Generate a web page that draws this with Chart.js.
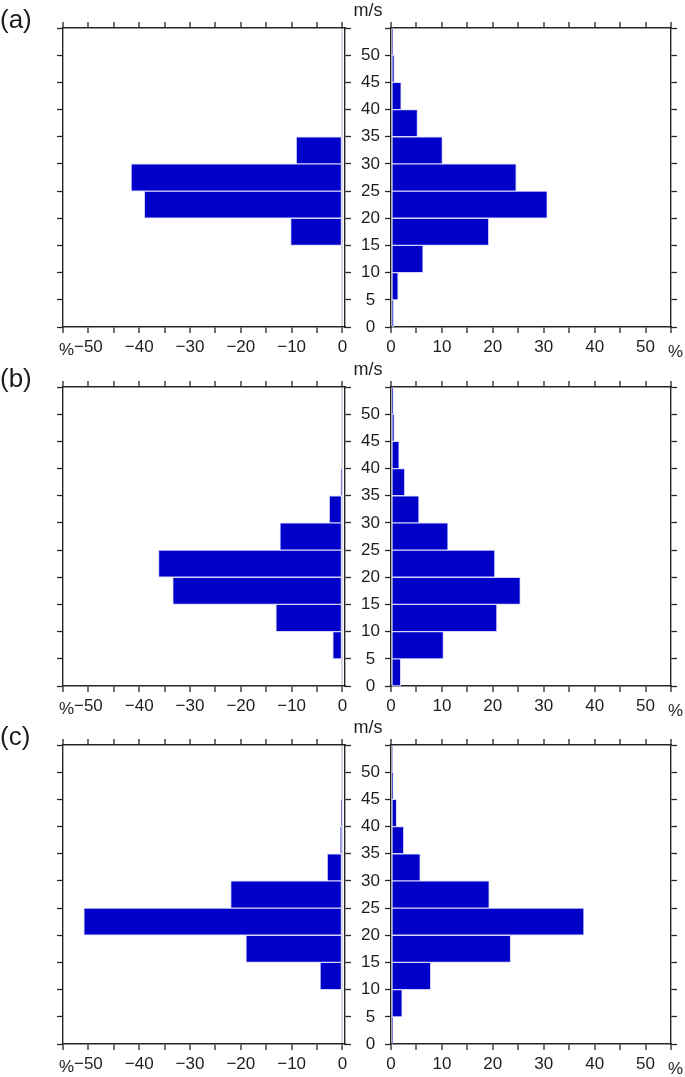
<!DOCTYPE html>
<html>
<head>
<meta charset="utf-8">
<script src="https://cdn.jsdelivr.net/npm/chart.js@4.4.1/dist/chart.umd.min.js"></script>
<style>
  html, body { margin: 0; padding: 0; background: #fff; }
  body { width: 685px; height: 1077px; position: relative; overflow: hidden;
         font-family: "Liberation Sans", Arial, sans-serif; color: #1e1e1e; }
  .panel { position: absolute; left: 0; width: 685px; height: 359px; }
  .panel canvas { position: absolute; top: 0; }
  .lbl { position: absolute; white-space: nowrap; line-height: 1; }
</style>
</head>
<body>
<script>
// wind speed bins of 5 m/s, each bar sits on the centre of its bin
const binCentres = [2.5, 7.5, 12.5, 17.5, 22.5, 27.5, 32.5, 37.5, 42.5, 47.5, 52.5];

// percentages per bin (left side drawn as negative values)
const leftA  = [0, 0, 0, -10.2, -39.0, -41.6, -9.1, 0, 0, 0, 0];
const rightA = [0.5, 1.4, 6.3, 19.2, 30.7, 24.6, 10.1, 5.2, 2.0, 0.65, 0.3];
const leftB  = [0, -1.9, -13.1, -33.4, -36.2, -12.3, -2.6, -0.3, 0, 0, 0];
const rightB = [1.9, 10.3, 20.8, 25.4, 20.4, 11.2, 5.5, 2.7, 1.6, 0.65, 0.45];
const leftC  = [0, 0, -4.4, -19.0, -50.9, -22.0, -3.0, -0.4, -0.2, 0, 0];
const rightC = [0.3, 2.2, 7.8, 23.5, 37.9, 19.3, 5.75, 2.5, 1.1, 0.4, 0.25];

const panelNames = ['(a)', '(b)', '(c)'];
const leftSeries = [leftA, leftB, leftC];
const rightSeries = [rightA, rightB, rightC];

const FONT = { family: '"Liberation Sans", Arial, sans-serif', size: 17 };
const INK = '#262626';
const PANEL_H = 359;
const panelTops = [0, 359, 717];

const fmt = v => (v < 0 ? '\u2212' + Math.abs(v) : String(v));
const fixSize = (prop, n) => s => { s[prop] = n; };

function xAxis(min, max, position, showLabels, zeroLine) {
  return {
    type: 'linear', axis: 'x', position, min, max, offset: false,
    afterFit: fixSize('height', position === 'top' ? 28 : PANEL_H - 327),
    border: { display: true, color: INK, width: 1.4 },
    grid: {
      offset: false,
      drawOnChartArea: zeroLine,
      color: c => (zeroLine && c.tick && c.tick.value === 0) ? '#d8d8e4' : 'rgba(0,0,0,0)',
      lineWidth: 2,
      tickColor: INK, tickWidth: 1.3, tickLength: 6
    },
    ticks: {
      display: showLabels, stepSize: 5, includeBounds: false, autoSkip: false,
      maxRotation: 0, minRotation: 0, padding: 4, color: '#1e1e1e', font: FONT,
      callback: v => (v % 10 === 0 ? fmt(v) : '')
    }
  };
}

function yAxis(position, width, showLabels) {
  return {
    type: 'linear', axis: 'y', position, min: 0, max: 55, offset: false,
    afterFit: fixSize('width', width),
    border: { display: true, color: INK, width: 1.4 },
    grid: { offset: false, drawOnChartArea: false, color: INK, tickColor: INK, tickWidth: 1.3, tickLength: 6 },
    ticks: {
      display: showLabels, stepSize: 5, includeBounds: false, autoSkip: false,
      crossAlign: 'center', padding: 10, color: '#1e1e1e', font: FONT,
      callback: v => (v <= 50 ? String(v) : '')
    }
  };
}

function makeChart(canvas, values, side) {
  const left = side === 'left';
  const scales = left ? {
    x: xAxis(-55, 0.5, 'bottom', true, true),
    xTop: xAxis(-55, 0.5, 'top', false, false),
    y: yAxis('left', 63, false),
    yRight: yAxis('right', 46, true)
  } : {
    x: xAxis(0, 55, 'bottom', true, false),
    xTop: xAxis(0, 55, 'top', false, false),
    y: yAxis('left', 46, false),
    yRight: yAxis('right', 14, false)
  };
  return new Chart(canvas, {
    type: 'bar',
    data: {
      datasets: [{
        data: binCentres.map((c, i) => ({ x: values[i], y: c })),
        backgroundColor: '#0000c8',
        borderColor: '#d4d4ff',
        borderWidth: 1,
        borderSkipped: false,
        barPercentage: 1,
        categoryPercentage: 1
      }]
    },
    options: {
      indexAxis: 'y',
      responsive: false,
      animation: false,
      events: [],
      layout: { padding: 0 },
      plugins: { legend: { display: false }, tooltip: { enabled: false } },
      scales
    }
  });
}

function addLabel(parent, text, css) {
  const d = document.createElement('div');
  d.className = 'lbl';
  d.textContent = text;
  Object.assign(d.style, css);
  parent.appendChild(d);
}

panelNames.forEach((name, p) => {
  const panel = document.createElement('div');
  panel.className = 'panel';
  panel.style.top = panelTops[p] + 'px';
  document.body.appendChild(panel);

  const cl = document.createElement('canvas');
  cl.width = 391; cl.height = PANEL_H;
  cl.style.left = '0px';
  panel.appendChild(cl);

  const cr = document.createElement('canvas');
  cr.width = 340; cr.height = PANEL_H;
  cr.style.left = '345px';
  panel.appendChild(cr);

  makeChart(cl, leftSeries[p], 'left');
  makeChart(cr, rightSeries[p], 'right');

  addLabel(panel, name, { left: '0px', top: '6px', fontSize: '26px' });
  addLabel(panel, 'm/s', { left: '368px', top: '1px', fontSize: '18px', transform: 'translateX(-50%)' });
  addLabel(panel, '%', { left: '59px', top: '341px', fontSize: '17px' });
  addLabel(panel, '%', { left: '668px', top: '343px', fontSize: '17px' });
});
</script>
</body>
</html>
